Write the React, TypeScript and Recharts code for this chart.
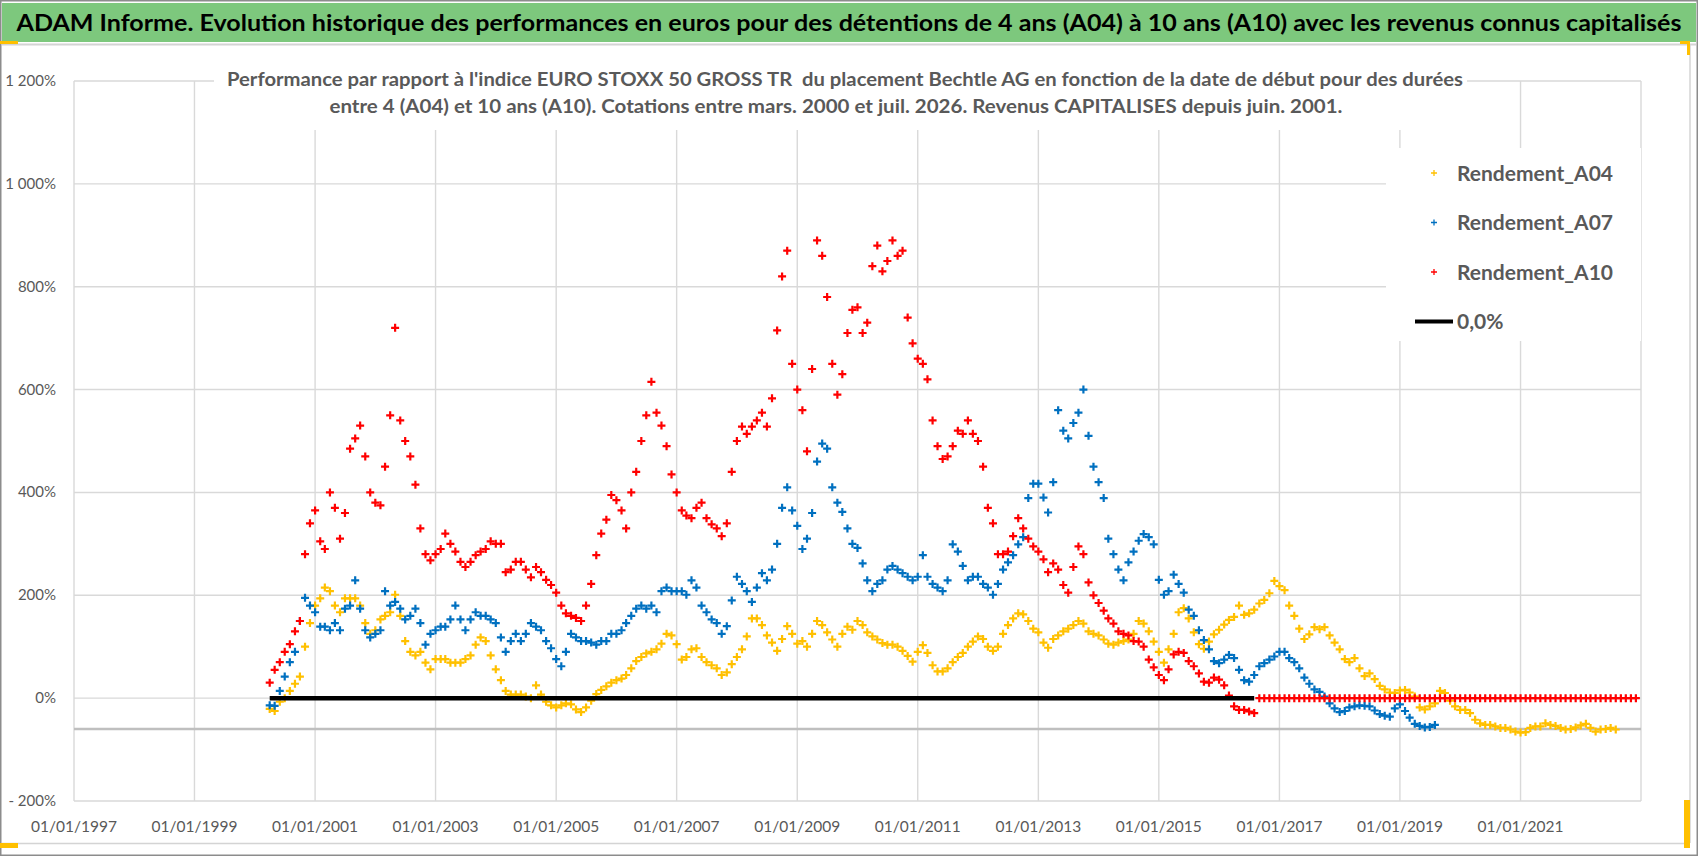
import React from "react";
import {
  ScatterChart,
  Scatter,
  XAxis,
  YAxis,
  CartesianGrid,
  ReferenceLine,
  Legend,
} from "recharts";

// tick years on the date axis (01/01 of each)
const xTickYears = [1997, 1999, 2001, 2003, 2005, 2007, 2009, 2011, 2013, 2015, 2017, 2019, 2021];
const yTicks = [-200, 0, 200, 400, 600, 800, 1000, 1200];

// monthly readings, first value = April 2000
const seriesStart = "2000-04";

const a04Values = [
  -21, -25, -7, 0, 14, 28, 42, 100, 146,
  180, 194, 215, 208, 180, 167, 194, 194, 194, 180, 146, 125,
  132, 153, 160, 167, 201, 160, 111, 90, 83, 90, 69, 56,
  76, 76, 76, 69, 69, 69, 76, 83, 104, 118, 111, 83,
  56, 35, 14, 7, 7, 7, 3, 0, 25, 7, -7, -14,
  -18, -14, -10, -12, -22, -27, -18, -5, 8, 16, 23, 30,
  35, 38, 45, 58, 72, 80, 87, 90, 95, 106, 125, 122,
  105, 75, 80, 95, 97, 80, 70, 64, 58, 45, 50, 66,
  80, 95, 120, 155, 155, 142, 122, 108, 92, 115, 140, 125,
  106, 111, 100, 125, 150, 142, 128, 114, 100, 125, 139, 133,
  150, 142, 128, 120, 114, 107, 104, 104, 100, 92, 82, 71,
  90, 103, 88, 64, 52, 52, 58, 70, 80, 88, 100, 110,
  120, 115, 100, 92, 100, 125, 142, 155, 165, 163, 150, 135,
  128, 108, 98, 115, 122, 130, 135, 142, 150, 145, 130, 125,
  122, 114, 106, 104, 108, 111, 114, 125, 150, 145, 130, 110,
  90, 69, 95, 125, 167, 175, 155, 128, 105, 96, 110, 124,
  133, 143, 152, 158, 180, 162, 165, 172, 184, 191, 204, 228,
  218, 210, 180, 160, 135, 115, 124, 138, 134, 138, 122, 108,
  95, 76, 70, 78, 58, 43, 48, 37, 24, 17, 11, 10,
  15, 16, 11, 3, -18, -22, -16, -10, 14, 10, -5, -16,
  -23, -23, -29, -42, -49, -52, -52, -55, -58, -58, -61, -65,
  -67, -66, -58, -55, -55, -49, -52, -54, -58, -61, -60, -57,
  -53, -50, -58, -65, -61, -60, -58, -61,
];

const a07Values = [
  -14, -15, 14, 42, 70, 90, 150, 195, 180,
  167, 139, 139, 132, 146, 132, 174, 180, 229, 174, 132, 118,
  125, 132, 208, 180, 187, 174, 153, 160, 174, 146, 104, 125,
  132, 139, 139, 153, 180, 153, 132, 153, 167, 160, 160, 153,
  146, 118, 90, 111, 125, 111, 125, 146, 139, 132, 111, 97,
  76, 62, 90, 125, 118, 111, 111, 108, 104, 111, 111, 125,
  125, 132, 146, 160, 174, 180, 174, 180, 167, 208, 215, 208,
  208, 208, 201, 229, 215, 180, 167, 153, 146, 125, 140, 190,
  236, 222, 208, 187, 215, 243, 229, 250, 300, 370, 410, 365,
  335, 290, 310, 360, 460, 495, 485, 410, 380, 362, 330, 300,
  292, 262, 229, 208, 222, 229, 250, 257, 250, 243, 236, 229,
  236, 278, 236, 222, 215, 208, 229, 299, 285, 257, 229, 236,
  236, 222, 215, 201, 222, 250, 264, 278, 299, 313, 389, 417,
  417, 390, 361, 420, 560, 520, 505, 535, 555, 600, 510, 450,
  420, 389, 310, 280, 250, 229, 264, 285, 306, 319, 313, 299,
  230, 201, 208, 240, 222, 205, 172, 160, 132, 113, 95, 72,
  68, 75, 84, 78, 55, 35, 32, 45, 62, 68, 75, 81,
  90, 90, 78, 70, 58, 40, 28, 17, 12, 3, -10, -20,
  -27, -25, -18, -16, -14, -15, -16, -24, -31, -34, -36, -20,
  -12, -25, -38, -50, -54, -57, -56, -52,
];

const a10Values = [
  30, 55, 70, 90, 105, 130, 150, 280, 340,
  365, 305, 290, 400, 370, 310, 360, 485, 505, 530, 470, 400,
  380, 375, 450, 550, 720, 540, 500, 470, 415, 330, 280, 268,
  280, 290, 320, 300, 285, 265, 255, 265, 278, 285, 290, 305,
  300, 300, 245, 250, 265, 265, 250, 235, 255, 245, 230, 220,
  205, 180, 165, 160, 156, 150, 180, 222, 278, 320, 347, 395,
  385, 365, 330, 400, 440, 500, 550, 615, 555, 530, 490, 435,
  400, 365, 355, 350, 370, 380, 350, 338, 330, 315, 340, 440,
  500, 528, 514, 528, 540, 555, 528, 583, 715, 820, 870, 650,
  600, 560, 480, 640, 890, 860, 780, 650, 590, 630, 710, 755,
  760, 710, 730, 840, 880, 830, 850, 890, 860, 870, 740, 690,
  660, 650, 620, 540, 490, 465, 470, 490, 520, 514, 540, 514,
  500, 450, 370, 340, 280, 280, 285, 315, 350, 330, 310, 295,
  285, 270, 245, 262, 250, 220, 205, 255, 295, 280, 225, 200,
  185, 170, 155, 145, 130, 125, 122, 111, 110, 100, 75, 60,
  45, 35, 56, 85, 90, 88, 72, 62, 48, 32, 30, 40,
  36, 25, 5, -16, -23, -23, -26, -29, 0, 0, 0, 0,
  0, 0, 0, 0, 0, 0, 0, 0, 0, 0, 0, 0,
  0, 0, 0, 0, 0, 0, 0, 0, 0, 0, 0, 0,
  0, 0, 0, 0, 0, 0, 0, 0, 0, 0, 0, 0,
  0, 0, 0, 0, 0, 0, 0, 0, 0, 0, 0, 0,
  0, 0, 0, 0, 0, 0, 0, 0, 0, 0, 0, 0,
  0, 0, 0, 0, 0, 0, 0, 0, 0, 0, 0, 0,
];

const zeroLineDates = ["2000-04-01", "2016-08-01"];

const legendOrder = ["Rendement_A04", "Rendement_A07", "Rendement_A10", "0,0%"];

const monthly = (start: string, values: number[]) => {
  const [y, m] = start.split("-").map(Number);
  return values.map((v, i) => ({ t: Date.UTC(y, m - 1 + i, 1), v }));
};

const a04 = monthly(seriesStart, a04Values);
const a07 = monthly(seriesStart, a07Values);
const a10 = monthly(seriesStart, a10Values);
const zeroLine = zeroLineDates.map((d) => ({ t: Date.parse(d), v: 0 }));

const YELLOW = "#FFC000";
const BLUE = "#0070C0";
const RED = "#FF0000";
const GREY_TXT = "#595959";
const FONT = "Lato, 'Open Sans', sans-serif";

const plus = (color: string) => (props: any) => {
  const { cx, cy } = props;
  if (cx == null || cy == null) return <g />;
  return (
    <path
      d={`M${cx - 4},${cy}H${cx + 4}M${cx},${cy - 4}V${cy + 4}`}
      stroke={color}
      strokeWidth={2.2}
      fill="none"
    />
  );
};

const pct = (v: number) => {
  const s = String(Math.abs(v)).replace(/\B(?=(\d{3})+(?!\d))/g, " ");
  return (v < 0 ? "- " : "") + s + "%";
};

const XTick = (props: any) => {
  const { x, y, payload } = props;
  const year = new Date(payload.value).getUTCFullYear();
  return (
    <text x={x} y={y + 23} textAnchor="middle" fontFamily={FONT} fontSize={15.5} fill={GREY_TXT}>
      {`01/01/${year}`}
    </text>
  );
};

const YTick = (props: any) => {
  const { x, y, payload } = props;
  return (
    <text x={x - 10} y={y + 5} textAnchor="end" fontFamily={FONT} fontSize={15} fill={GREY_TXT}>
      {pct(payload.value)}
    </text>
  );
};

const LegendBox = (props: any) => {
  const payload = [...(props.payload || [])].sort(
    (a: any, b: any) => legendOrder.indexOf(a.value) - legendOrder.indexOf(b.value)
  );
  return (
    <svg width={255} height={193} style={{ background: "#fff", display: "block" }}>
      {payload.map((entry: any, i: number) => {
        const cy = 25 + i * 49.5;
        return (
          <g key={entry.value}>
            {entry.type === "line" ? (
              <line x1={29} x2={67} y1={cy} y2={cy} stroke="#000" strokeWidth={4} />
            ) : (
              <path
                d={`M${45},${cy}H${51}M${48},${cy - 3}V${cy + 3}`}
                stroke={entry.color}
                strokeWidth={1.3}
              />
            )}
            <text
              x={71}
              y={cy + 7.5}
              fontFamily={FONT}
              fontWeight="bold"
              fontSize={21}
              fill={GREY_TXT}
            >
              {entry.value}
            </text>
          </g>
        );
      })}
    </svg>
  );
};

export default function App() {
  return (
    <div style={{ position: "absolute", left: 0, top: 0, width: 1698, height: 856, background: "#fff" }}>
      <ScatterChart
        width={1698}
        height={856}
        margin={{ top: 81, right: 57, bottom: 25, left: 0 }}
      >
        <CartesianGrid stroke="#D9D9D9" strokeWidth={1.4} />
        <XAxis
          type="number"
          dataKey="t"
          domain={[Date.UTC(1997, 0, 1), Date.UTC(2023, 0, 1)]}
          ticks={xTickYears.map((y) => Date.UTC(y, 0, 1))}
          tick={<XTick />}
          tickLine={false}
          axisLine={false}
          height={30}
          allowDataOverflow
        />
        <YAxis
          type="number"
          dataKey="v"
          domain={[-200, 1200]}
          ticks={yTicks}
          tick={<YTick />}
          tickLine={false}
          axisLine={false}
          width={74}
          allowDataOverflow
        />
        <ReferenceLine y={-60} stroke="#BFBFBF" strokeWidth={2.5} />
        <Legend
          layout="vertical"
          align="center"
          verticalAlign="middle"
          content={<LegendBox />}
          wrapperStyle={{ left: 1386, top: 148, width: 255, height: 193 }}
        />
        <Scatter
          name="Rendement_A04"
          data={a04}
          fill={YELLOW}
          shape={plus(YELLOW)}
          legendType="cross"
          isAnimationActive={false}
        />
        <Scatter
          name="Rendement_A07"
          data={a07}
          fill={BLUE}
          shape={plus(BLUE)}
          legendType="cross"
          isAnimationActive={false}
        />
        <Scatter
          name="Rendement_A10"
          data={a10}
          fill={RED}
          shape={plus(RED)}
          legendType="cross"
          isAnimationActive={false}
        />
        <Scatter
          name="0,0%"
          data={zeroLine}
          fill="#000"
          line={{ stroke: "#000", strokeWidth: 4.5 }}
          shape={() => <g />}
          legendType="line"
          isAnimationActive={false}
        />
      </ScatterChart>

      <svg
        width={1698}
        height={856}
        style={{ position: "absolute", left: 0, top: 0, pointerEvents: "none" }}
      >
        <rect x={0.75} y={0.75} width={1696.5} height={854.5} fill="none" stroke="#8C8C8C" strokeWidth={1.5} />
        <rect x={2} y={3} width={1694} height={39} fill="#7DC87D" />
        <line x1={2} x2={1696} y1={44.5} y2={44.5} stroke="#D4D4D4" strokeWidth={2} />
        <line x1={1690} x2={1690} y1={45} y2={843} stroke="#D4D4D4" strokeWidth={1.5} />
        <line x1={2} x2={1690} y1={843.5} y2={843.5} stroke="#D4D4D4" strokeWidth={1.5} />
        <rect x={0} y={41} width={18} height={3} fill={YELLOW} />
        <rect x={1680} y={41} width={10} height={3} fill={YELLOW} />
        <rect x={1687} y={41} width={3} height={14} fill={YELLOW} />
        <rect x={1684} y={800} width={6} height={48} fill={YELLOW} />
        <rect x={0} y={843} width={18} height={5} fill={YELLOW} />
        <text
          x={849}
          y={31}
          textAnchor="middle"
          fontFamily={FONT}
          fontWeight="bold"
          fontSize={23}
          fill="#000"
          textLength={1665}
          lengthAdjust="spacingAndGlyphs"
        >
          ADAM Informe. Evolution historique des performances en euros pour des détentions de 4 ans (A04) à 10 ans (A10) avec les revenus connus capitalisés
        </text>
        <rect x={214} y={60} width={1253} height={70} fill="#fff" />
        <text
          x={845}
          y={86}
          textAnchor="middle"
          fontFamily={FONT}
          fontWeight="bold"
          fontSize={18}
          fill={GREY_TXT}
          textLength={1236}
          lengthAdjust="spacingAndGlyphs"
          style={{ whiteSpace: "pre" }}
        >
          {"Performance par rapport à l'indice EURO STOXX 50 GROSS TR  du placement Bechtle AG en fonction de la date de début pour des durées"}
        </text>
        <text
          x={836}
          y={113}
          textAnchor="middle"
          fontFamily={FONT}
          fontWeight="bold"
          fontSize={18}
          fill={GREY_TXT}
          textLength={1013}
          lengthAdjust="spacingAndGlyphs"
        >
          entre 4 (A04) et 10 ans (A10). Cotations entre mars. 2000 et juil. 2026. Revenus CAPITALISES depuis juin. 2001.
        </text>
      </svg>
    </div>
  );
}
